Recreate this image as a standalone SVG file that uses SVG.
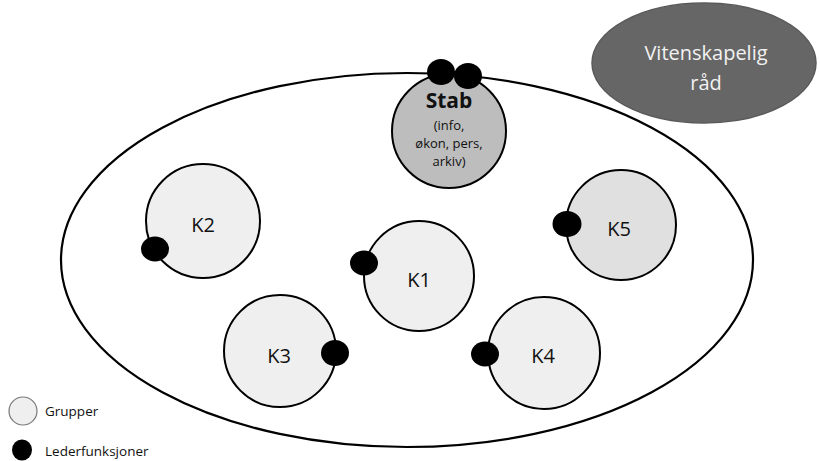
<svg xmlns="http://www.w3.org/2000/svg" width="820" height="461" viewBox="0 0 820 461">
  <style>
    text { font-family: "Open Sans", "Noto Sans", "Liberation Sans", sans-serif; fill: #111; }
    .outer { fill: none; stroke: #000; stroke-width: 2.2; }
    .group { fill: #efefef; stroke: #000; stroke-width: 2; }
    .group-alt { fill: #e0e0e0; stroke: #000; stroke-width: 2; }
    .stab { fill: #bdbdbd; stroke: #000; stroke-width: 2; }
    .lead { fill: #000; }
    .klabel { font-size: 20px; text-anchor: middle; }
    .small { font-size: 13px; text-anchor: middle; }
    .legend { font-size: 13.5px; }
    .council { fill: #666; stroke: #5a5a5a; stroke-width: 1.5; }
    .council-text { fill: #f2f2f2; font-size: 20px; text-anchor: middle; }
  </style>

  <!-- organisation boundary -->
  <g id="organisation">
    <ellipse class="outer" cx="407" cy="260" rx="346" ry="187"/>
  </g>

  <!-- advisory council -->
  <g id="vitenskapelig-rad">
    <ellipse class="council" cx="704" cy="63" rx="112" ry="60"/>
    <text class="council-text" x="706" y="60">Vitenskapelig</text>
    <text class="council-text" x="706" y="90">råd</text>
  </g>

  <g id="stab">
    <circle class="stab" cx="449" cy="131" r="57"/>
    <text x="449" y="108" font-size="21" font-weight="bold" text-anchor="middle">Stab</text>
    <text class="small" x="449" y="130">(info,</text>
    <text class="small" x="449" y="148">økon, pers,</text>
    <text class="small" x="449" y="166">arkiv)</text>
    <ellipse class="lead" cx="441" cy="72" rx="14" ry="13"/>
    <ellipse class="lead" cx="468" cy="76" rx="14" ry="13"/>
  </g>

  <g id="k2">
    <circle class="group" cx="203" cy="221" r="57"/>
    <text class="klabel" x="203" y="232">K2</text>
    <ellipse class="lead" cx="155" cy="249" rx="14" ry="12.5"/>
  </g>

  <g id="k5">
    <circle class="group-alt" cx="621" cy="225" r="55"/>
    <text class="klabel" x="619" y="236">K5</text>
    <ellipse class="lead" cx="567" cy="224" rx="14.5" ry="13"/>
  </g>

  <g id="k1">
    <circle class="group" cx="419" cy="276" r="55"/>
    <text class="klabel" x="419" y="287">K1</text>
    <ellipse class="lead" cx="364" cy="263" rx="14" ry="12.5"/>
  </g>

  <g id="k3">
    <circle class="group" cx="280" cy="351" r="56"/>
    <text class="klabel" x="279" y="363">K3</text>
    <ellipse class="lead" cx="335" cy="353" rx="14" ry="13"/>
  </g>

  <g id="k4">
    <circle class="group" cx="544" cy="353" r="56"/>
    <text class="klabel" x="543" y="363">K4</text>
    <ellipse class="lead" cx="485" cy="354" rx="14" ry="12.5"/>
  </g>

  <!-- legend -->
  <g id="legend">
    <circle cx="23" cy="411" r="14" fill="#efefef" stroke="#777" stroke-width="1.2"/>
    <text class="legend" x="45" y="416">Grupper</text>
    <ellipse class="lead" cx="22" cy="450" rx="10" ry="10.5"/>
    <text class="legend" x="45" y="456">Lederfunksjoner</text>
  </g>

  <!-- no connectors in this chart -->
  <g id="connectors"/>
</svg>
